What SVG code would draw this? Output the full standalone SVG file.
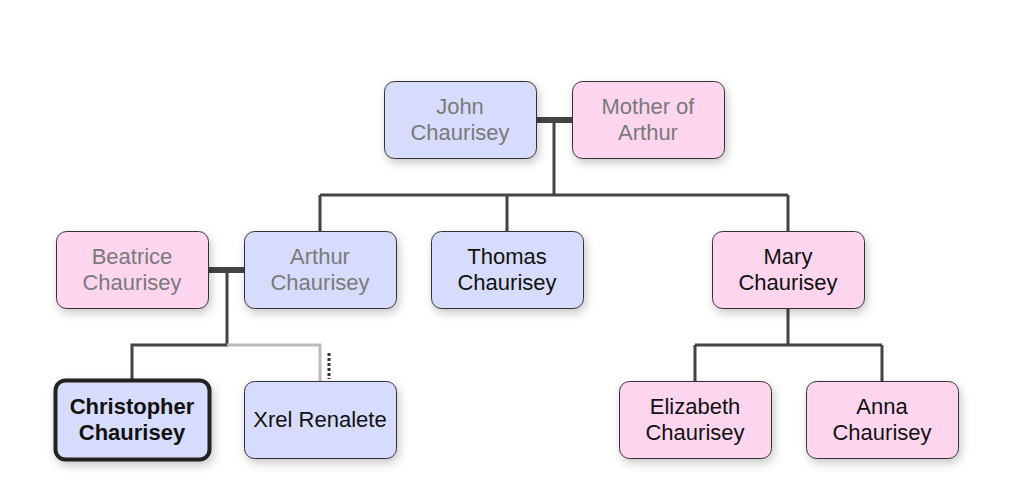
<svg xmlns="http://www.w3.org/2000/svg" width="1017" height="498" viewBox="0 0 1017 498">
<defs>
<filter id="sh" x="-20%" y="-20%" width="150%" height="160%">
<feDropShadow dx="2" dy="4" stdDeviation="5" flood-color="#000" flood-opacity="0.22"/>
</filter>
</defs>
<style>
.box{stroke:#333;stroke-width:1;filter:url(#sh)}
.m{fill:#d7dcfc}
.f{fill:#fdd5ef}
.t{font-family:"Liberation Sans",Arial,sans-serif;font-size:22px;text-anchor:middle;fill:#111}
.g{fill:#7a7a7a}
.b{font-weight:bold}
.ln{stroke:#444;stroke-width:3;fill:none}
.sp{stroke:#444;stroke-width:6;fill:none}
.lt{stroke:#bbb;stroke-width:3;fill:none}
.dt{stroke:#333;stroke-width:3;stroke-dasharray:3 2;fill:none}
</style>
<rect width="1017" height="498" fill="#fff"/>
<g id="connectors">
<line class="sp" x1="537" y1="120" x2="572" y2="120"/>
<path class="ln" d="M554 120 V195 M320 195 H788 M320 195 V231 M507 195 V231 M788 195 V231"/>
<line class="sp" x1="208" y1="270" x2="244" y2="270"/>
<path class="ln" d="M227 270 V345 H132 V379"/>
<path class="lt" d="M227 345 H320 V381"/>
<line class="dt" x1="329" y1="353" x2="329" y2="379"/>
<path class="ln" d="M788 308 V345 M695 345 H882 M695 345 V381 M882 345 V381"/>
</g>
<g id="john"><rect class="box m" x="384.5" y="81.5" width="152" height="77" rx="10"/><text class="t g" x="460" y="114">John</text><text class="t g" x="460" y="140">Chaurisey</text></g>
<g id="mother"><rect class="box f" x="572.5" y="81.5" width="152" height="77" rx="10"/><text class="t g" x="648" y="114">Mother of</text><text class="t g" x="648" y="140">Arthur</text></g>
<g id="beatrice"><rect class="box f" x="56.5" y="231.5" width="152" height="77" rx="10"/><text class="t g" x="132" y="264">Beatrice</text><text class="t g" x="132" y="290">Chaurisey</text></g>
<g id="arthur"><rect class="box m" x="244.5" y="231.5" width="152" height="77" rx="10"/><text class="t g" x="320" y="264">Arthur</text><text class="t g" x="320" y="290">Chaurisey</text></g>
<g id="thomas"><rect class="box m" x="431.5" y="231.5" width="152" height="77" rx="10"/><text class="t" x="507" y="264">Thomas</text><text class="t" x="507" y="290">Chaurisey</text></g>
<g id="mary"><rect class="box f" x="712.5" y="231.5" width="152" height="77" rx="10"/><text class="t" x="788" y="264">Mary</text><text class="t" x="788" y="290">Chaurisey</text></g>
<g id="christopher"><rect class="box m" x="55.5" y="380.5" width="154" height="79" rx="10" style="stroke:#222;stroke-width:4"/><text class="t b" x="132" y="414">Christopher</text><text class="t b" x="132" y="440">Chaurisey</text></g>
<g id="xrel"><rect class="box m" x="244.5" y="381.5" width="152" height="77" rx="10"/><text class="t" x="320" y="427">Xrel Renalete</text></g>
<g id="elizabeth"><rect class="box f" x="619.5" y="381.5" width="152" height="77" rx="10"/><text class="t" x="695" y="414">Elizabeth</text><text class="t" x="695" y="440">Chaurisey</text></g>
<g id="anna"><rect class="box f" x="806.5" y="381.5" width="152" height="77" rx="10"/><text class="t" x="882" y="414">Anna</text><text class="t" x="882" y="440">Chaurisey</text></g>
</svg>
